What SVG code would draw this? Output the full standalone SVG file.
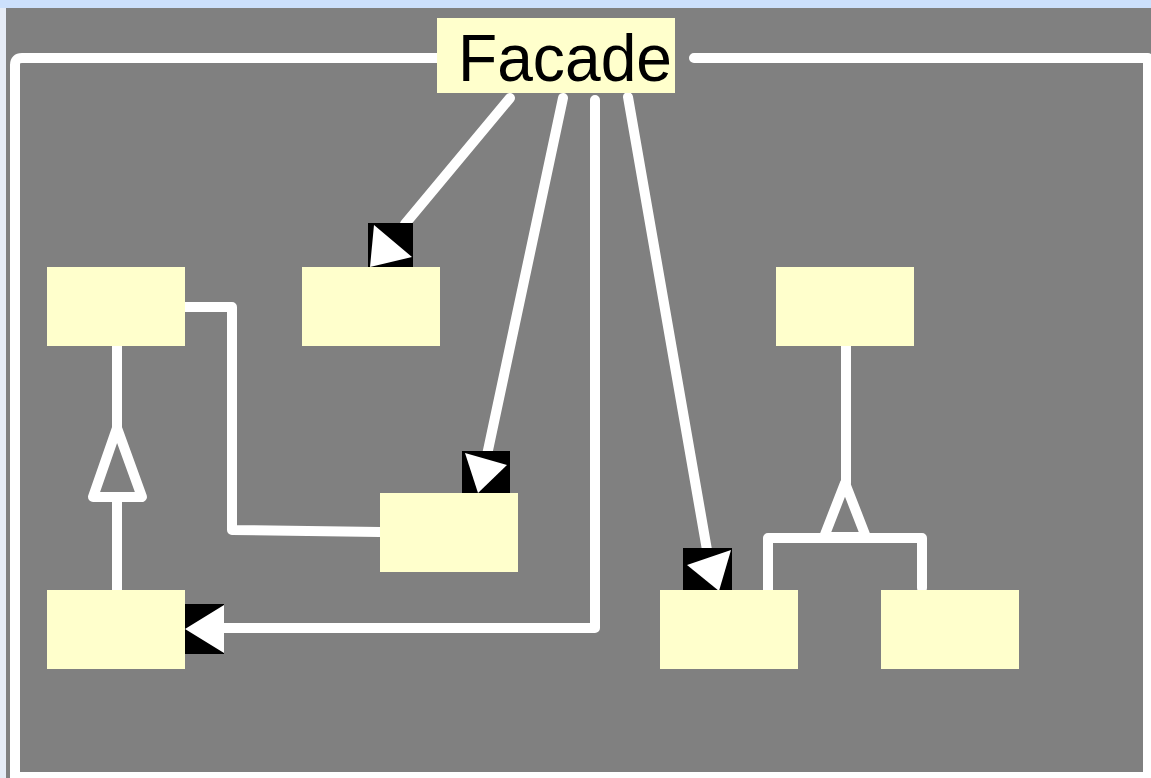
<svg xmlns="http://www.w3.org/2000/svg" width="1151" height="778" viewBox="0 0 1151 778">
<style>
.node{fill:#ffffcc}
.wire{fill:none;stroke:#ffffff;stroke-width:10;stroke-linecap:round;stroke-linejoin:round}
.tri{fill:none;stroke:#ffffff;stroke-width:10;stroke-linejoin:round}
.head-bg{fill:#000000}
.head{fill:#ffffff}
.label{font-family:"Liberation Sans",Arial,sans-serif;font-size:66px;fill:#000000}
</style>
<rect x="0" y="0" width="1151" height="778" fill="#cce0fc"/>
<rect x="0" y="8" width="6" height="770" fill="#e6ecf6"/>
<rect x="6" y="8" width="1145" height="770" fill="#808080"/>
<path class="wire" d="M 437 58 H 22 Q 15 58 15 65 V 777 H 1148 V 58 H 694"/>

<g id="connectors">
  <path class="wire" d="M 510 98 L 405 224"/>
  <path class="wire" d="M 563 98 L 487 455"/>
  <path class="wire" d="M 595 100 V 628 H 222"/>
  <path class="wire" d="M 628 97 L 707 550"/>
  <path class="wire" d="M 185 307 H 232 V 530 L 380 532"/>
  <path class="wire" d="M 117 590 V 497"/>
  <path class="wire" d="M 117 428 V 346"/>
  <path class="tri" d="M 117 428 L 142 497 L 93 497 Z"/>
  <path class="wire" d="M 846 346 V 483"/>
  <path class="tri" d="M 845 483 L 866 537 L 824 537 Z"/>
  <path class="wire" d="M 768 590 V 538 H 922 V 588"/>
  <g id="head1">
    <rect class="head-bg" x="368" y="223" width="45" height="45"/>
    <polygon class="head" points="374,225 412,257 370,267"/>
  </g>
  <g id="head2">
    <rect class="head-bg" x="462" y="451" width="48" height="43"/>
    <polygon class="head" points="465,453 507,465 478,493"/>
  </g>
  <g id="head3">
    <rect class="head-bg" x="184" y="604" width="40" height="50"/>
    <polygon class="head" points="185,629 224,605 224,653"/>
  </g>
  <g id="head4">
    <rect class="head-bg" x="683" y="548" width="49" height="44"/>
    <polygon class="head" points="687,565 731,550 719,591"/>
  </g>
</g>

<g id="facade">
  <rect class="node" x="437" y="18" width="238" height="75"/>
  <text class="label" x="458" y="81" textLength="214" lengthAdjust="spacingAndGlyphs">Facade</text>
</g>
<g id="nodeA"><rect class="node" x="47" y="267" width="138" height="79"/></g>
<g id="nodeB"><rect class="node" x="302" y="267" width="138" height="79"/></g>
<g id="nodeC"><rect class="node" x="380" y="493" width="138" height="79"/></g>
<g id="nodeD"><rect class="node" x="47" y="590" width="138" height="79"/></g>
<g id="nodeE"><rect class="node" x="660" y="590" width="138" height="79"/></g>
<g id="nodeF"><rect class="node" x="881" y="590" width="138" height="79"/></g>
<g id="nodeG"><rect class="node" x="776" y="267" width="138" height="79"/></g>
</svg>
